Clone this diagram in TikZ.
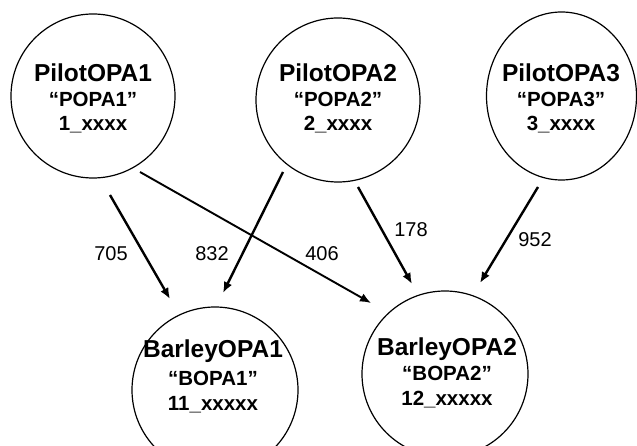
\documentclass[tikz,border=0pt]{standalone}
\usepackage{fontspec}
\setmainfont{Liberation Sans}
\usetikzlibrary{arrows.meta}
\begin{document}
\begin{tikzpicture}[x=1pt,y=-1pt,
  bubble/.style={draw=black,line width=1.2pt,circle,inner sep=0pt},
  nameline/.style={anchor=base,font=\bfseries\fontsize{24.5}{24.5}\selectfont},
  subline/.style={anchor=base,font=\bfseries\fontsize{20.5}{20.5}\selectfont},
  weight/.style={font=\fontsize{20}{20}\selectfont},
  link/.style={line width=2.4pt,-{Latex[length=11pt,width=9pt]}},
  thinlink/.style={line width=1.9pt,-{Latex[length=11pt,width=9pt]}}]
\useasboundingbox (0,0) rectangle (637,446);
% top circles
\node[bubble,minimum size=164pt] (p1) at (93,96) {};
\node[bubble,minimum size=164pt] (p2) at (338,100) {};
\draw[line width=1.2pt] (561.5,96) ellipse [x radius=75, y radius=84];
\coordinate (p3) at (561.5,96);
% bottom circles
\node[bubble,minimum size=166pt] (b1) at (215,390) {};
\node[bubble,minimum size=166pt] (b2) at (445,374) {};
% texts
\node[nameline] (p1a) at (93,82) {PilotOPA1};
\node[subline] (p1b) at (93,107) {“POPA1”};
\node[subline] (p1c) at (93,131) {1\_xxxx};
\node[nameline] (p2a) at (338,82) {PilotOPA2};
\node[subline] (p2b) at (338,107) {“POPA2”};
\node[subline] (p2c) at (338,131) {2\_xxxx};
\node[nameline] (p3a) at (561,82) {PilotOPA3};
\node[subline] (p3b) at (561,107) {“POPA3”};
\node[subline] (p3c) at (561,131) {3\_xxxx};
\node[nameline] (b1a) at (213,357) {BarleyOPA1};
\node[subline] (b1b) at (213,385) {“BOPA1”};
\node[subline] (b1c) at (213,410) {11\_xxxxx};
\node[nameline] (b2a) at (447,355) {BarleyOPA2};
\node[subline] (b2b) at (447,380) {“BOPA2”};
\node[subline] (b2c) at (447,405) {12\_xxxxx};
% arrow ends
\coordinate (s705) at (110,195); \coordinate (e705) at (170,299);
\coordinate (s832) at (283,172); \coordinate (e832) at (223,293);
\coordinate (s406) at (140,172); \coordinate (e406) at (371,303);
\coordinate (s178) at (358,187); \coordinate (e178) at (412,284);
\coordinate (s952) at (538,187); \coordinate (e952) at (480,283);
\draw[link] (s705) -- (e705);
\draw[link] (s832) -- (e832);
\draw[thinlink] (s406) -- (e406);
\draw[link] (s178) -- (e178);
\draw[link] (s952) -- (e952);
% weights
\node[weight] (w705) at (111,254) {705};
\node[weight] (w832) at (212,254) {832};
\node[weight] (w406) at (322,254) {406};
\node[weight] (w178) at (411,230) {178};
\node[weight] (w952) at (535,240) {952};
\end{tikzpicture}
\end{document}
